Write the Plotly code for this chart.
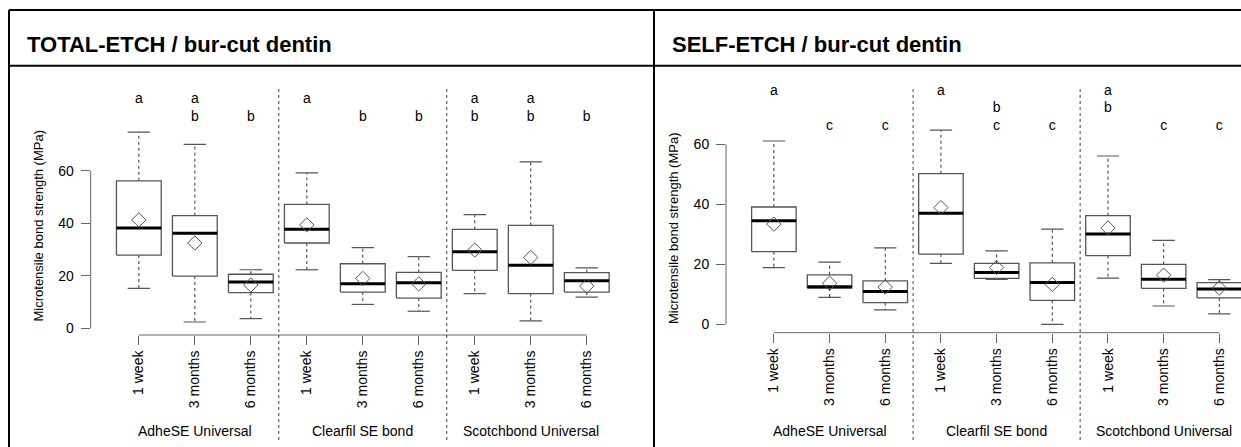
import plotly.graph_objects as go

# ---------------- data ----------------
groups = ["AdheSE Universal", "Clearfil SE bond", "Scotchbond Universal"]
times = ["1 week", "3 months", "6 months"]
panel_titles = ["TOTAL-ETCH / bur-cut dentin", "SELF-ETCH / bur-cut dentin"]
y_title = "Microtensile bond strength (MPa)"
y_ticks = [0, 20, 40, 60]

# TOTAL-ETCH
te_low = [15.2, 2.4, 3.7, 22.3, 9.1, 6.5, 13.2, 2.8, 11.9]
te_q1 = [27.9, 19.9, 13.6, 32.5, 13.8, 11.5, 22.1, 13.2, 13.8]
te_med = [38.2, 36.2, 17.6, 37.7, 17.0, 17.4, 29.2, 24.0, 18.1]
te_q3 = [56.2, 42.9, 20.6, 47.2, 24.6, 21.3, 37.7, 39.2, 21.2]
te_high = [74.7, 70.1, 22.3, 59.2, 30.7, 27.3, 43.3, 63.4, 23.0]
te_mean = [41.3, 32.5, 16.5, 39.4, 19.0, 16.9, 29.8, 27.0, 16.1]
te_letters = [["a"], ["a", "b"], ["b"], ["a"], ["b"], ["b"], ["a", "b"], ["a", "b"], ["b"]]

# SELF-ETCH
se_low = [18.9, 9.0, 4.8, 20.3, 15.0, 0.0, 15.4, 6.1, 3.5]
se_q1 = [24.2, 12.1, 7.2, 23.4, 15.3, 8.0, 22.9, 12.0, 8.8]
se_med = [34.5, 12.5, 10.9, 37.0, 17.3, 13.9, 30.1, 15.0, 11.8]
se_q3 = [39.1, 16.5, 14.5, 50.2, 20.3, 20.5, 36.2, 20.0, 13.9]
se_high = [61.1, 20.7, 25.5, 64.7, 24.5, 31.7, 56.1, 28.0, 14.9]
se_mean = [33.4, 13.7, 12.4, 38.9, 18.9, 13.3, 32.1, 16.4, 12.1]
se_letters = [["a"], ["c"], ["c"], ["a"], ["b", "c"], ["c"], ["a", "b"], ["c"], ["c"]]

# ---------------- layout constants ----------------
W, H = 1241, 447
FONT = "Liberation Sans, Arial, sans-serif"
BOX_HW = 0.40
CAP_HW = 0.20
BOX_COL = "#555555"
AXIS_COL = "#666666"

def py(px):
    return 1 - px / H

def pxx(px):
    return min(1.0, px / W)

panels = [
    dict(low=te_low, q1=te_q1, med=te_med, q3=te_q3, high=te_high, mean=te_mean,
         letters=te_letters, xa="x", ya="y",
         xdom=[pxx(90.7), pxx(634.9)], xr=[0.14, 9.86],
         ydom=[py(335), py(75)], yr=[-2.55, 96.5],
         rows={"a": 87.0, "b": 80.2, "c": 73.4},
         border=9, ytitle_x=38, ytitle_y=226.5),
    dict(low=se_low, q1=se_q1, med=se_med, q3=se_q3, high=se_high, mean=se_mean,
         letters=se_letters, xa="x2", ya="y2",
         xdom=[pxx(726), 1.0], xr=[0.14, 9.389],
         ydom=[py(332.7), py(75)], yr=[-2.8, 83.1],
         rows={"a": 77.5, "b": 71.8, "c": 65.9},
         border=654, ytitle_x=673, ytitle_y=228),
]

fig = go.Figure()
shapes = []
annotations = []
labels = [t for g in groups for t in times]
positions = list(range(1, len(labels) + 1))

for k, p in enumerate(panels):
    bx, by, mx, my, wx, wy, cx, cy = [], [], [], [], [], [], [], []
    for i, pos in enumerate(positions):
        bx += [pos - BOX_HW, pos + BOX_HW, pos + BOX_HW, pos - BOX_HW, pos - BOX_HW, None]
        by += [p["q1"][i], p["q1"][i], p["q3"][i], p["q3"][i], p["q1"][i], None]
        mx += [pos - BOX_HW, pos + BOX_HW, None]
        my += [p["med"][i], p["med"][i], None]
        wx += [pos, pos, None, pos, pos, None]
        wy += [p["q3"][i], p["high"][i], None, p["q1"][i], p["low"][i], None]
        cx += [pos - CAP_HW, pos + CAP_HW, None, pos - CAP_HW, pos + CAP_HW, None]
        cy += [p["high"][i], p["high"][i], None, p["low"][i], p["low"][i], None]
    common = dict(xaxis=p["xa"], yaxis=p["ya"], showlegend=False, hoverinfo="skip")
    fig.add_trace(go.Scatter(x=wx, y=wy, mode="lines",
                             line=dict(color="#333333", width=1, dash="dot"), **common))
    fig.add_trace(go.Scatter(x=cx, y=cy, mode="lines",
                             line=dict(color=BOX_COL, width=1.2), **common))
    fig.add_trace(go.Scatter(x=bx, y=by, mode="lines", fill="toself", fillcolor="white",
                             line=dict(color=BOX_COL, width=1.3), **common))
    fig.add_trace(go.Scatter(x=mx, y=my, mode="lines",
                             line=dict(color="black", width=3), **common))
    fig.add_trace(go.Scatter(x=positions, y=p["mean"], mode="markers",
                             marker=dict(symbol="diamond-open", size=11, color=BOX_COL,
                                         line=dict(width=1, color=BOX_COL)), **common))
    # significance letters
    lx, ly, lt = [], [], []
    for i, pos in enumerate(positions):
        for letter in p["letters"][i]:
            lx.append(pos)
            ly.append(p["rows"][letter])
            lt.append(letter)
    fig.add_trace(go.Scatter(x=lx, y=ly, mode="text", text=lt,
                             textfont=dict(family=FONT, size=14, color="black"), **common))

    xs = "" if k == 0 else "2"
    fig.update_layout(**{
        f"xaxis{xs}": dict(domain=p["xdom"], range=p["xr"], tickvals=positions, ticktext=labels,
                           tickangle=-90, ticks="outside", ticklen=9, tickcolor=AXIS_COL,
                           showgrid=False, zeroline=False, showline=False,
                           tickfont=dict(family=FONT, size=14, color="black"),
                           anchor=f"y{xs}"),
        f"yaxis{xs}": dict(domain=p["ydom"], range=p["yr"], tickvals=y_ticks,
                           ticks="outside", ticklen=9, tickcolor=AXIS_COL,
                           showgrid=False, zeroline=False, showline=False,
                           ticklabelstandoff=4,
                           tickfont=dict(family=FONT, size=14, color="black"),
                           anchor=f"x{xs}"),
    })
    xr = p["xa"]
    yr = p["ya"]
    # R-style axis lines spanning only the ticks
    shapes.append(dict(type="line", xref=f"{xr} domain", x0=0, x1=0, yref=yr,
                       y0=y_ticks[0], y1=y_ticks[-1], line=dict(color=AXIS_COL, width=1)))
    shapes.append(dict(type="line", xref=xr, x0=positions[0], x1=positions[-1],
                       yref=f"{yr} domain", y0=0, y1=0, line=dict(color=AXIS_COL, width=1)))
    # group separators
    for s in (3.5, 6.5):
        shapes.append(dict(type="line", xref=xr, x0=s, x1=s, yref="paper",
                           y0=py(440), y1=py(87), line=dict(color="#444444", width=1, dash="dot")))
    # group labels
    for g, gx in zip(groups, (2, 5, 8)):
        annotations.append(dict(text=g, xref=xr, x=gx, yref="paper", y=py(430.5),
                                xanchor="center", yanchor="middle", showarrow=False,
                                font=dict(family=FONT, size=14, color="black")))
    # y title
    annotations.append(dict(text=y_title, xref="paper", x=pxx(p["ytitle_x"]), yref="paper",
                            y=py(p["ytitle_y"]), textangle=-90, xanchor="center",
                            yanchor="middle", showarrow=False,
                            font=dict(family=FONT, size=13, color="black")))
    # panel title
    annotations.append(dict(text="<b>" + panel_titles[k] + "</b>", xref="paper",
                            x=pxx(p["border"] + 16), yref="paper", y=py(44.5),
                            xanchor="left", yanchor="middle", showarrow=False,
                            font=dict(family=FONT, size=22, color="black")))

# frames
FR = dict(color="black", width=2)
shapes.append(dict(type="line", xref="paper", yref="paper", x0=pxx(9), x1=pxx(9),
                   y0=0, y1=py(10), line=FR))
shapes.append(dict(type="line", xref="paper", yref="paper", x0=pxx(654), x1=pxx(654),
                   y0=0, y1=py(10), line=FR))
shapes.append(dict(type="line", xref="paper", yref="paper", x0=pxx(9), x1=1,
                   y0=py(10), y1=py(10), line=FR))
shapes.append(dict(type="line", xref="paper", yref="paper", x0=pxx(9), x1=1,
                   y0=py(65.7), y1=py(65.7), line=FR))

fig.update_layout(width=W, height=H, margin=dict(l=0, r=0, t=0, b=0),
                  paper_bgcolor="white", plot_bgcolor="white",
                  shapes=shapes, annotations=annotations,
                  font=dict(family=FONT, color="black"))

fig.write_html("out.html",
               config={"displayModeBar": False},
               post_script="document.body.style.margin='0px';"
                           "document.body.style.overflow='hidden';")
